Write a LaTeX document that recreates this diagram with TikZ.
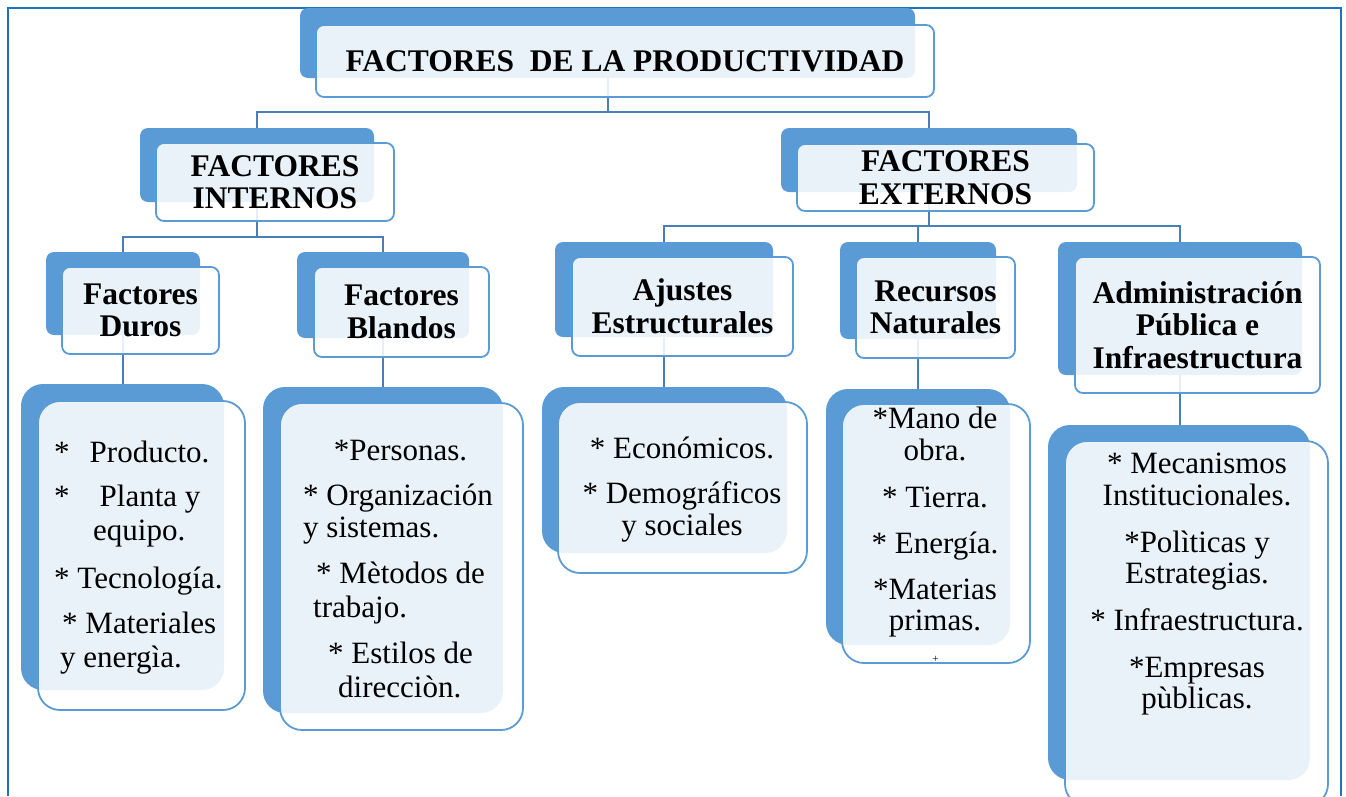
\documentclass[tikz,border=0pt]{standalone}
\usepackage{fontspec}
\setmainfont{Liberation Serif}
\usetikzlibrary{backgrounds}
\definecolor{boxblue}{RGB}{91,155,213}
\definecolor{linkblue}{RGB}{74,126,187}
\definecolor{frameblue}{RGB}{30,115,190}
\tikzset{
  backbox/.style={draw=none, fill=boxblue, rounded corners=8pt, inner sep=0pt},
  frontbox/.style={draw=boxblue, line width=1.8pt, fill=white, fill opacity=0.87, text opacity=1, rounded corners=8pt, inner sep=0pt},
  backdet/.style={backbox, rounded corners=22pt},
  frontdet/.style={frontbox, rounded corners=22pt},
  headtxt/.style={font=\fontsize{31.5}{32.5}\selectfont\bfseries, align=center},
  dettxt/.style={font=\fontsize{31}{34}\selectfont, inner sep=0pt, anchor=base},
  link/.style={draw=linkblue, line width=2pt},
  framepen/.style={draw=frameblue, line width=2pt},
}
\begin{document}
\begin{tikzpicture}[x=1pt, y=-1pt]
\useasboundingbox (0,0) rectangle (1346,796);
\draw[framepen] (7.5,796) -- (7.5,7.5) -- (1340.5,7.5) -- (1340.5,796);

% ---------- level 0
\node[backbox, minimum width=615pt, minimum height=70pt] (b0) at (607.5,43) {};
\node[frontbox, headtxt, minimum width=618pt, minimum height=72pt] (f0) at (625,61) {FACTORES\ \ DE LA PRODUCTIVIDAD};

% ---------- level 1
\node[backbox, minimum width=234pt, minimum height=74pt] (b1) at (257,165) {};
\node[frontbox, headtxt, minimum width=238pt, minimum height=78pt] (f1) at (275,182) {FACTORES\\INTERNOS};
\node[backbox, minimum width=296pt, minimum height=64pt] (b2) at (929,160) {};
\node[frontbox, headtxt, minimum width=297pt, minimum height=67pt] (f2) at (945.5,177.5) {FACTORES\\EXTERNOS};

% ---------- level 2
\node[backbox, minimum width=154pt, minimum height=83pt] (bdu) at (123,293.5) {};
\node[frontbox, headtxt, minimum width=157pt, minimum height=87pt] (fdu) at (140.5,310.5) {Factores\\Duros};
\node[backbox, minimum width=172pt, minimum height=86pt] (bbl) at (383,295) {};
\node[frontbox, headtxt, minimum width=175pt, minimum height=90pt] (fbl) at (401.5,312) {Factores\\Blandos};
\node[backbox, minimum width=218pt, minimum height=95pt] (baj) at (664,289.5) {};
\node[frontbox, headtxt, minimum width=221pt, minimum height=99pt] (faj) at (682.5,306.5) {Ajustes\\Estructurales};
\node[backbox, minimum width=156pt, minimum height=97pt] (bre) at (918,290.5) {};
\node[frontbox, headtxt, minimum width=159pt, minimum height=101pt] (fre) at (935.5,307.5) {Recursos\\Naturales};
\node[backbox, minimum width=244pt, minimum height=133pt] (bad) at (1180,308.5) {};
\node[frontbox, headtxt, minimum width=245pt, minimum height=136pt] (fad) at (1197.5,325) {Administración\\Pública e\\Infraestructura};

% ---------- detail boxes
\node[backdet, minimum width=203pt, minimum height=306pt] (bdu2) at (122.5,537) {};
\node[frontdet, minimum width=207pt, minimum height=309pt] (fdu2) at (141.5,555.5) {};
\node[backdet, minimum width=240pt, minimum height=326pt] (bbl2) at (383,550) {};
\node[frontdet, minimum width=243pt, minimum height=327pt] (fbl2) at (401.5,566.5) {};
\node[backdet, minimum width=245pt, minimum height=166pt] (baj2) at (664.5,470) {};
\node[frontdet, minimum width=249pt, minimum height=171pt] (faj2) at (682.5,487.5) {};
\node[backdet, minimum width=184pt, minimum height=256pt] (bre2) at (918,517) {};
\node[frontdet, minimum width=188pt, minimum height=259pt] (fre2) at (936,533.5) {};
\node[backdet, minimum width=262pt, minimum height=355pt] (bad2) at (1179,602.5) {};
\node[frontdet, minimum width=263pt, minimum height=365pt] (fad2) at (1196.5,623.5) {};

% ---------- detail texts: Factores Duros
\node[dettxt, anchor=base west] (du1) at (54,462) {*\hspace{20pt}Producto.};
\node[dettxt, anchor=base west] (du2) at (54,506) {*\hspace{30pt}Planta y};
\node[dettxt, anchor=base west] (du3) at (93,540) {equipo.};
\node[dettxt, anchor=base west] (du4) at (54,588) {* Tecnología.};
\node[dettxt, anchor=base west] (du5) at (62,633) {* Materiales};
\node[dettxt, anchor=base west] (du6) at (60,667) {y energìa.};

% Factores Blandos
\node[dettxt] (bl1) at (400.5,460) {*Personas.};
\node[dettxt, anchor=base west] (bl2) at (303,505) {* Organización};
\node[dettxt, anchor=base west] (bl3) at (303,537) {y sistemas.};
\node[dettxt, anchor=base west] (bl4) at (316,583) {* Mètodos de};
\node[dettxt, anchor=base west] (bl5) at (313,617) {trabajo.};
\node[dettxt, anchor=base west] (bl6) at (328,663) {* Estilos de};
\node[dettxt, anchor=base west] (bl7) at (338,697) {direcciòn.};

% Ajustes Estructurales
\node[dettxt] (aj1) at (682,458) {* Económicos.};
\node[dettxt] (aj2) at (682,503) {* Demográficos};
\node[dettxt] (aj3) at (682,535) {y sociales};

% Recursos Naturales
\node[dettxt] (re1) at (935,428) {*Mano de};
\node[dettxt] (re2) at (935,460) {obra.};
\node[dettxt] (re3) at (935,507) {* Tierra.};
\node[dettxt] (re4) at (935,553) {* Energía.};
\node[dettxt] (re5) at (935,599) {*Materias};
\node[dettxt] (re6) at (935,630) {primas.};
\node[font=\fontsize{11}{11}\selectfont, inner sep=0pt] (re7) at (935.5,659) {+};

% Administracion Publica
\node[dettxt] (ad1) at (1197,473) {* Mecanismos};
\node[dettxt] (ad2) at (1197,505) {Institucionales.};
\node[dettxt] (ad3) at (1197,552) {*Polìticas y};
\node[dettxt] (ad4) at (1197,583) {Estrategias.};
\node[dettxt] (ad5) at (1197,630) {* Infraestructura.};
\node[dettxt] (ad6) at (1197,677) {*Empresas};
\node[dettxt] (ad7) at (1197,708) {pùblicas.};

% ---------- connectors (behind the boxes)
\begin{scope}[on background layer]
\draw[link] (b0.south) -- ++(0,34);
\draw[link] (b1.north) -- ++(0,-16) -| (b2.north);
\draw[link] (b1.south) -- ++(0,35);
\draw[link] (bdu.north) -- ++(0,-15) -| (bbl.north);
\draw[link] (b2.south) -- ++(0,34);
\draw[link] (baj.north) -- ++(0,-16) -| (bad.north);
\draw[link] (bre.north) -- ++(0,-16);
\draw[link] (bdu.south) -- (bdu.south |- bdu2.north);
\draw[link] (bbl.south) -- (bbl.south |- bbl2.north);
\draw[link] (baj.south) -- (baj.south |- baj2.north);
\draw[link] (bre.south) -- (bre.south |- bre2.north);
\draw[link] (bad.south) -- (bad.south |- bad2.north);
\end{scope}
\end{tikzpicture}
\end{document}
